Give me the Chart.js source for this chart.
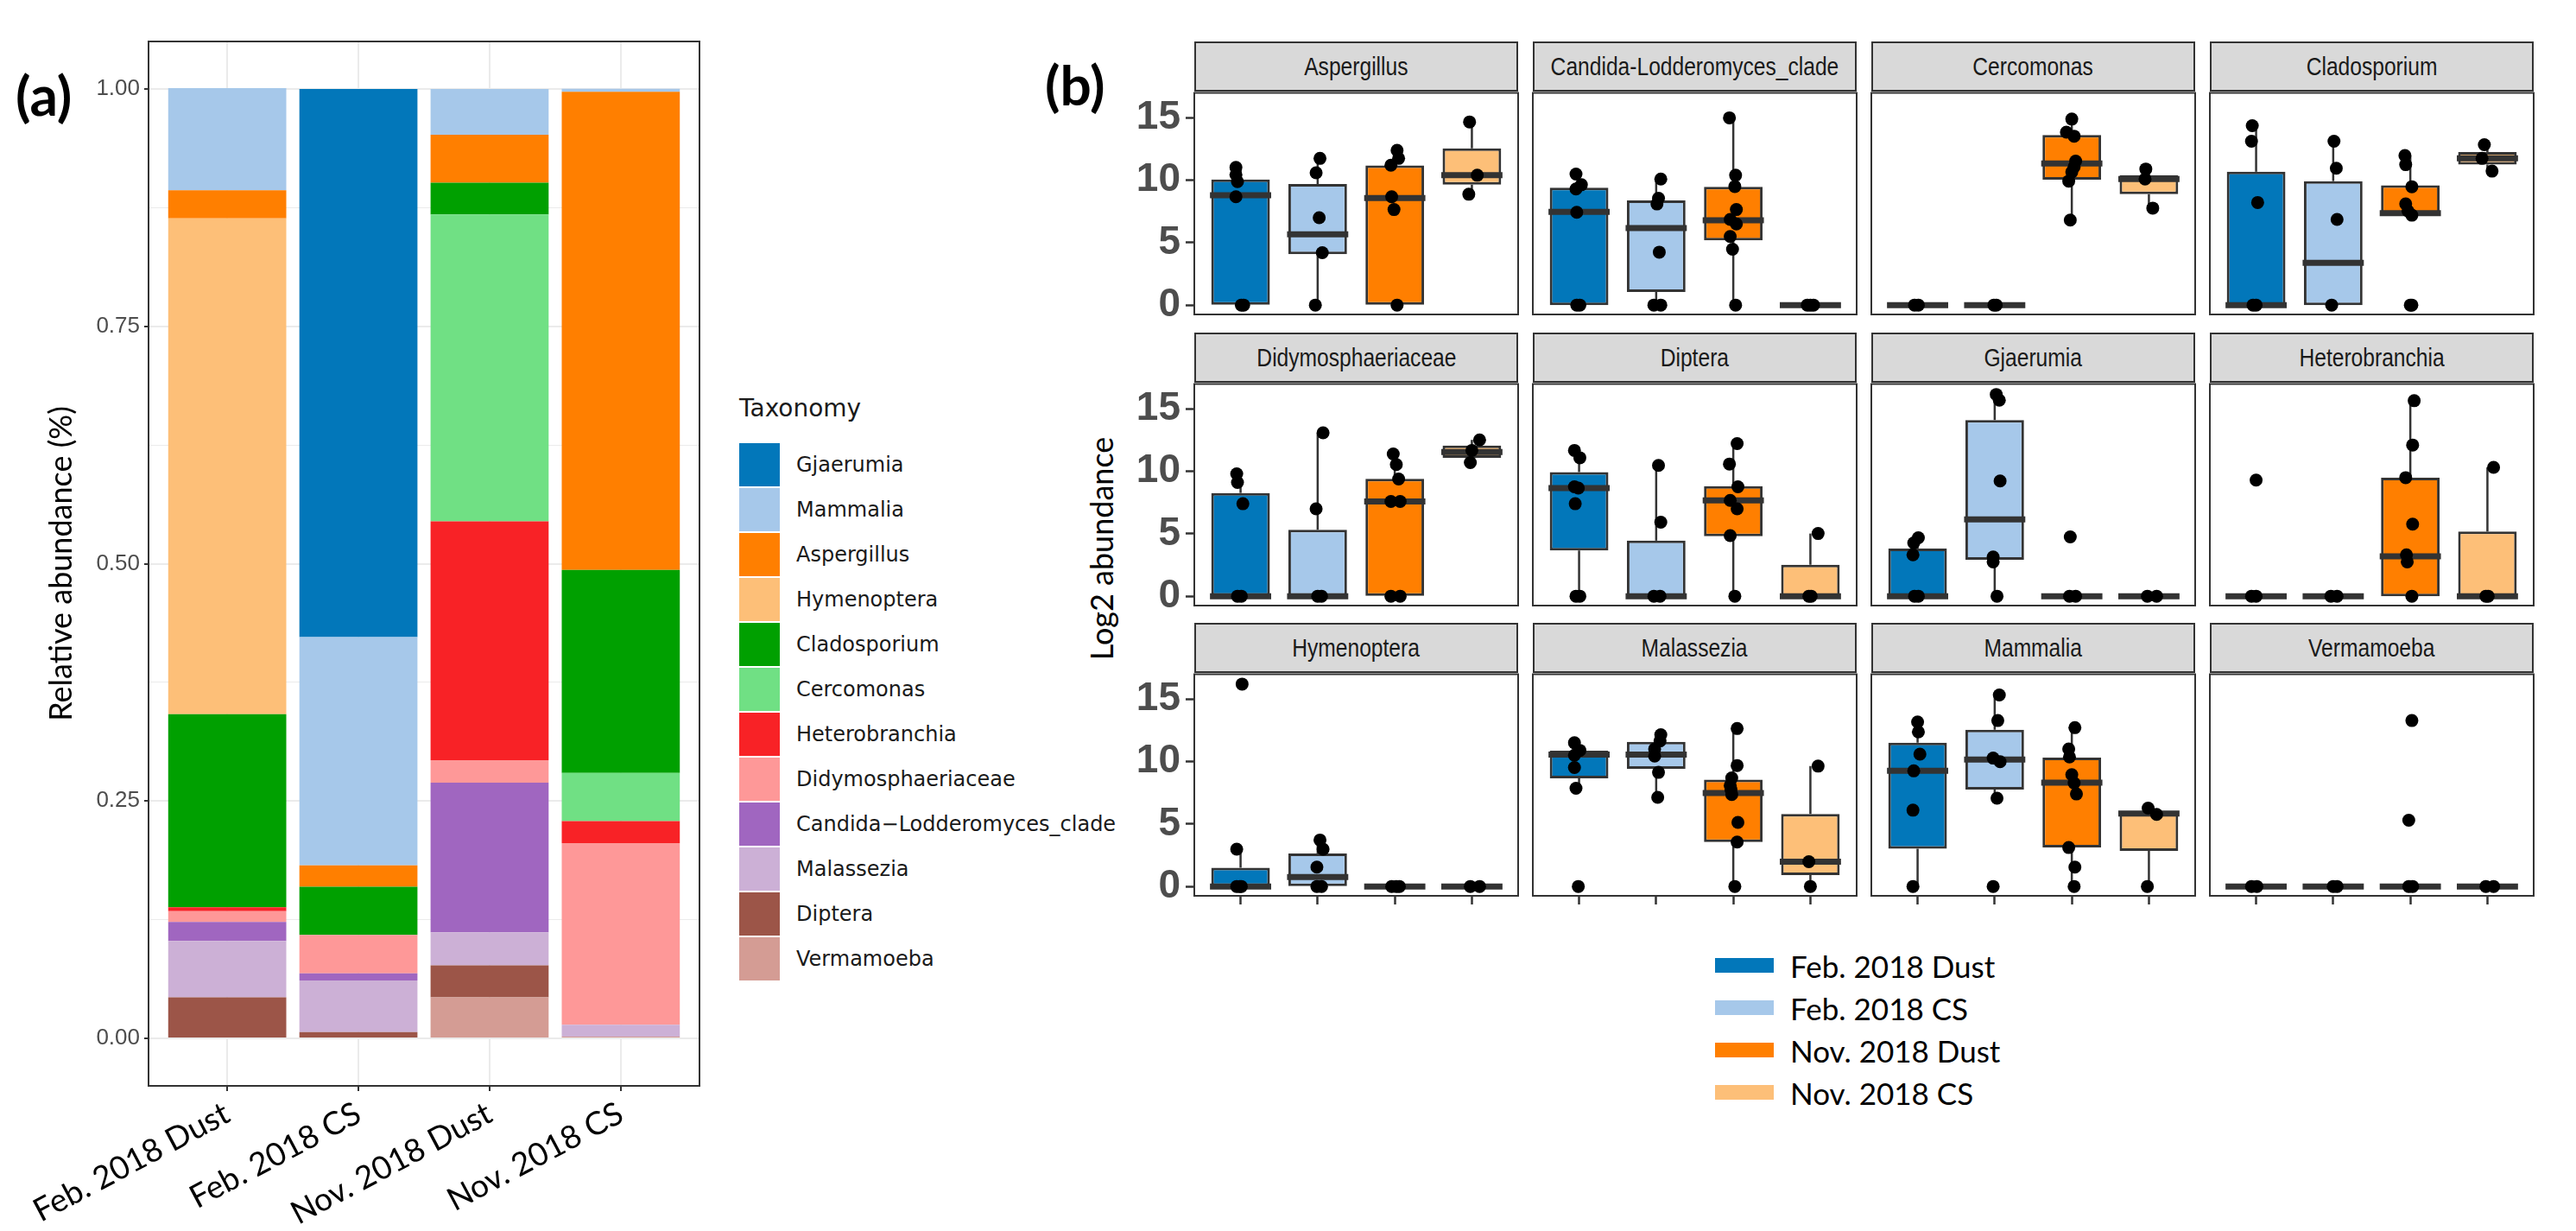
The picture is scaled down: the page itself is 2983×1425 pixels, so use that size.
<!DOCTYPE html>
<html>
<head>
<meta charset="utf-8">
<script src="https://cdn.jsdelivr.net/npm/chart.js@4.4.1/dist/chart.umd.min.js"></script>
<style>
  body { margin: 0; background: #fff; width: 2983px; height: 1425px; position: relative; overflow: hidden; font-family: Lato, sans-serif; }
  canvas, .abs { position: absolute; }
  .tag { font: 700 64px Lato, sans-serif; line-height: 1; color: #000; }
  .strip { box-sizing: border-box; background: #D9D9D9; border: 2px solid #333; color: #1a1a1a;
           font: 30px 'Liberation Sans', Arial, sans-serif;
           display: flex; align-items: center; justify-content: center; overflow: hidden; }
  .strip span { display: inline-block; white-space: nowrap; transform: scaleX(0.82); }
  .ytitle { font: 36px Lato, sans-serif; color: #000; white-space: nowrap; transform: translate(-50%, -50%) rotate(-90deg); }
  #legA { left: 856px; top: 456px; font: 24px 'DejaVu Sans', sans-serif; color: #1a1a1a; }
  #legA .ttl { font-size: 28px; height: 56px; }
  #legA .row { display: flex; align-items: center; height: 52px; }
  #legA .key { width: 47px; height: 50px; margin-right: 19px; }
  #legB { left: 1986px; top: 1093px; font: 35px Lato, sans-serif; color: #000; }
  #legB .row { display: flex; align-items: center; height: 49px; }
  #legB .key { width: 68px; height: 17px; margin-right: 19px; }
</style>
</head>
<body>
<div class="abs tag" style="left:18px;top:78px">(a)</div>
<div class="abs tag" style="left:1210px;top:66px">(b)</div>
<canvas id="barsA" width="830" height="1425" style="left:0;top:0"></canvas>
<div id="legA" class="abs"></div>
<div class="abs ytitle" style="left:1275px;top:635px">Log2 abundance</div>
<div id="legB" class="abs"></div>
<div id="facets"></div>

<script>
// ---------- panel (a): relative abundance ----------
const samples = ["Feb. 2018 Dust", "Feb. 2018 CS", "Nov. 2018 Dust", "Nov. 2018 CS"];
const sampleColors = ["#0277BA", "#A6C8EA", "#FF7F00", "#FDBF78"];

// legend order (top of each stack first)
const taxa = ["Gjaerumia", "Mammalia", "Aspergillus", "Hymenoptera", "Cladosporium", "Cercomonas",
  "Heterobranchia", "Didymosphaeriaceae", "Candida\u2212Lodderomyces_clade", "Malassezia", "Diptera", "Vermamoeba"];
const taxaColors = ["#0277BA", "#A6C8EA", "#FF7F00", "#FDBF78", "#00A000", "#70E084",
  "#F82226", "#FE9898", "#A066C0", "#CCB0D6", "#9C5548", "#D49C94"];

// share of each taxon per sample, same order as taxa
const febDust = [0, 0.1075, 0.0295, 0.5224, 0.2034, 0, 0.004, 0.0113, 0.02, 0.0594, 0.0433, 0];
const febCS = [0.5773, 0.2405, 0.0224, 0, 0.0509, 0, 0, 0.0404, 0.0074, 0.0545, 0.0066, 0];
const novDust = [0, 0.0483, 0.0504, 0, 0.0334, 0.3233, 0.2516, 0.0236, 0.1576, 0.0348, 0.0337, 0.0433];
const novCS = [0, 0.003, 0.5037, 0, 0.2137, 0.0509, 0.0232, 0.1912, 0, 0.0126, 0, 0.0018];

const yTicksA = [0, 0.25, 0.5, 0.75, 1];
const yGridA = [0, 0.125, 0.25, 0.375, 0.5, 0.625, 0.75, 0.875, 1];

// ---------- panel (b): log2 abundance per taxon ----------
// box = [lower whisker, q1, median, q3, upper whisker] per sample
// pts = per sample, [value, horizontal jitter]
const aspergillusBox = [[0, 0, 8.8, 10.07, 11.03], [0, 4.08, 5.67, 9.7, 11.75], [0, 0, 8.57, 11.18, 12.4], [8.88, 9.65, 10.4, 12.55, 14.67]];
const aspergillusPts = [
  [[11.03, -.06], [10.44, -.06], [9.89, -.04], [8.68, -.06], [0, .01], [0, .04]],
  [[11.75, .03], [10.6, -.02], [7.0, .02], [4.2, .06], [0, -.03]],
  [[12.4, .03], [11.75, .05], [11.2, -.05], [8.68, -.04], [7.65, -.01], [0, .03]],
  [[14.67, -.03], [10.4, .07], [8.88, -.04]]];

const candidaBox = [[0, 0, 7.47, 9.41, 10.5], [0, 1.05, 6.17, 8.38, 10.1], [0, 5.19, 6.79, 9.48, 15.0], [0, 0, 0, 0, 0]];
const candidaPts = [
  [[10.5, -.04], [9.64, .03], [9.3, -.04], [7.43, -.03], [0, -.03], [0, .01]],
  [[10.1, .06], [8.56, .03], [8.1, .01], [4.24, .04], [0, -.03], [0, .06]],
  [[15.0, -.05], [10.4, .03], [9.5, .02], [7.65, .04], [6.86, -.04], [6.5, .04], [5.5, -.04], [4.47, -.01], [0, .03]],
  [[0, -.04], [0, 0], [0, .04]]];

const cercomonasBox = [[0, 0, 0, 0, 0], [0, 0, 0, 0, 0], [6.81, 10.05, 11.34, 13.62, 14.9], [7.77, 8.88, 10.1, 10.4, 10.9]];
const cercomonasPts = [
  [[0, -.04], [0, .01]],
  [[0, -.01], [0, .02]],
  [[14.9, 0], [13.85, -.07], [13.53, .03], [11.53, .05], [11.07, .03], [10.66, 0], [9.93, -.04], [6.81, -.02]],
  [[10.9, -.04], [10.1, -.05], [7.77, .05]]];

const cladosporiumBox = [[0, 0, 0, 10.68, 14.37], [0, 0, 3.39, 9.93, 13.12], [7.2, 7.2, 7.36, 9.59, 11.98], [10.73, 11.25, 11.75, 12.26, 12.85]];
const cladosporiumPts = [
  [[14.37, -.05], [13.12, -.06], [8.22, .02], [0, -.04], [0, 0]],
  [[13.12, .01], [10.96, .04], [6.86, .05], [0, -.02]],
  [[11.98, -.07], [11.25, -.06], [9.48, .02], [8.11, -.06], [7.54, -.03], [7.2, .02], [0, 0], [0, .02]],
  [[12.85, -.04], [11.75, -.07], [10.73, .06]]];

const didymoBox = [[0, 0, 0, 8.27, 9.8], [0, 0, 0, 5.32, 13.09], [0, 0, 7.59, 9.41, 11.39], [10.7, 11.09, 11.55, 12.07, 12.52]];
const didymoPts = [
  [[9.8, -.05], [9.11, -.04], [7.41, .03], [0, -.04], [0, .01]],
  [[13.09, .07], [7.0, -.02], [0, 0], [0, .05]],
  [[11.39, -.02], [10.55, .02], [9.39, .05], [7.59, -.05], [7.59, .07], [0, -.05], [0, .07]],
  [[12.52, .1], [11.68, 0], [10.7, -.02]]];

const dipteraBox = [[0, 3.66, 8.66, 9.95, 11.68], [0, 0, 0, 4.45, 10.48], [0, 4.8, 7.68, 8.82, 12.23], [0, 0, 0, 2.52, 5.02]];
const dipteraPts = [
  [[11.68, -.06], [11.09, .01], [8.77, -.06], [8.66, -.01], [7.41, -.05], [0, -.04], [0, .01]],
  [[10.48, .03], [5.93, .06], [0, -.03], [0, .05]],
  [[12.23, .05], [10.59, -.05], [8.77, .06], [7.68, -.04], [7.0, .05], [4.86, -.04], [0, .02]],
  [[5.02, .1], [0, -.02], [0, .01]]];

const gjaerumiaBox = [[0, 0, 0, 3.82, 4.68], [0, 2.91, 6.16, 14.11, 16.16], [0, 0, 0, 0, 0], [0, 0, 0, 0, 0]];
const gjaerumiaPts = [
  [[4.68, .01], [4.27, -.05], [3.32, -.06], [0, -.04], [0, .01]],
  [[16.16, .02], [15.7, .06], [9.23, .07], [3.14, -.02], [2.75, -.02], [0, .03]],
  [[4.75, -.02], [0, -.03], [0, .05]],
  [[0, -.02], [0, .1]]];

const heterobranchiaBox = [[0, 0, 0, 0, 0], [0, 0, 0, 0, 0], [0, 0, 3.2, 9.5, 15.66], [0, 0, 0, 5.18, 10.32]];
const heterobranchiaPts = [
  [[9.3, 0], [0, -.06], [0, 0]],
  [[0, -.03], [0, .05]],
  [[15.66, .05], [12.11, .03], [9.5, -.06], [5.77, .03], [3.32, -.05], [2.75, -.04], [0, .02]],
  [[10.32, .08], [0, -.02], [0, .01]]];

const hymenopteraBox = [[0, 0, 0, 1.5, 2.99], [0, 0, 0.75, 2.64, 3.72], [0, 0, 0, 0, 0], [0, 0, 0, 0, 0]];
const hymenopteraPts = [
  [[16.21, .02], [2.99, -.05], [0, -.05], [0, .01], [0, -.01]],
  [[3.72, .03], [2.99, .07], [1.55, -.01], [0, -.01], [0, .05]],
  [[0, -.04], [0, .02], [0, .06]],
  [[0, -.02], [0, .1]]];

const malasseziaBox = [[7.87, 8.66, 10.56, 10.87, 11.51], [7.14, 9.42, 10.56, 11.58, 12.15], [0, 3.56, 7.48, 8.55, 12.65], [0, 0.91, 1.98, 5.81, 9.64]];
const malasseziaPts = [
  [[11.51, -.06], [10.9, .01], [10.51, -.06], [9.53, -.06], [7.87, -.04], [0, -.01]],
  [[12.15, .06], [11.65, .05], [11.01, -.02], [10.44, -.02], [9.14, .03], [7.14, .02]],
  [[12.65, .05], [9.69, .05], [8.69, -.02], [8.09, -.04], [7.77, -.03], [7.36, -.02], [5.13, .06], [3.56, .05], [0, .02]],
  [[9.64, .1], [1.98, -.02], [0, 0]]];

const mammaliaBox = [[0, 3.03, 9.26, 11.51, 13.18], [7.07, 7.77, 10.17, 12.56, 15.34], [0, 3.12, 8.32, 10.33, 12.72], [0, 2.85, 5.84, 6.0, 6.27]];
const mammaliaPts = [
  [[13.18, 0], [12.38, .01], [10.6, .03], [9.26, -.05], [6.11, -.06], [0, -.06]],
  [[15.34, .06], [13.29, .04], [10.28, -.02], [9.99, .07], [7.07, .03], [0, -.02]],
  [[12.72, .04], [11.01, -.04], [10.37, -.03], [8.96, 0], [8.28, .03], [7.41, .06], [3.12, -.04], [1.55, .04], [0, .03]],
  [[6.27, -.01], [5.77, .1], [0, -.02]]];

const vermamoebaBox = [[0, 0, 0, 0, 0], [0, 0, 0, 0, 0], [0, 0, 0, 0, 0], [0, 0, 0, 0, 0]];
const vermamoebaPts = [
  [[0, -.06], [0, .01]],
  [[0, 0], [0, .05]],
  [[13.29, .02], [5.31, -.02], [0, -.02], [0, .03]],
  [[0, -.02], [0, .08]]];

const facetNames = ["Aspergillus", "Candida-Lodderomyces_clade", "Cercomonas", "Cladosporium",
  "Didymosphaeriaceae", "Diptera", "Gjaerumia", "Heterobranchia",
  "Hymenoptera", "Malassezia", "Mammalia", "Vermamoeba"];
const facetBoxes = [aspergillusBox, candidaBox, cercomonasBox, cladosporiumBox, didymoBox, dipteraBox,
  gjaerumiaBox, heterobranchiaBox, hymenopteraBox, malasseziaBox, mammaliaBox, vermamoebaBox];
const facetPts = [aspergillusPts, candidaPts, cercomonasPts, cladosporiumPts, didymoPts, dipteraPts,
  gjaerumiaPts, heterobranchiaPts, hymenopteraPts, malasseziaPts, mammaliaPts, vermamoebaPts];
const yTicksB = [0, 5, 10, 15];

// ---------- layout ----------
const tickFont = "'Liberation Sans', Arial, sans-serif";
const colLeft = [1383, 1775, 2167, 2559];
const stripTop = [48, 385, 721];
const panelW = 375, panelH = 260, stripH = 56, axisW = 130, pad = 4, axisH = 24;

const frame = {
  id: "frame",
  afterDraw(chart, args, opts) {
    const a = chart.chartArea, ctx = chart.ctx;
    ctx.save();
    ctx.strokeStyle = "#333";
    ctx.lineWidth = opts.width || 2;
    ctx.strokeRect(a.left, a.top, a.right - a.left, a.bottom - a.top);
    ctx.restore();
  }
};

// whiskers and median drawn right after the boxes, before the points
const whiskers = {
  id: "whiskers",
  afterDatasetDraw(chart, args) {
    const ds = chart.data.datasets[args.index];
    if (!ds.stats) return;
    const y = chart.scales.y, ctx = chart.ctx;
    args.meta.data.forEach((bar, i) => {
      const [lo, q1, med, q3, hi] = ds.stats[i];
      const half = bar.width / 2;
      ctx.save();
      ctx.strokeStyle = "#333";
      ctx.lineWidth = 2.5;
      ctx.beginPath();
      ctx.moveTo(bar.x, y.getPixelForValue(q3));
      ctx.lineTo(bar.x, y.getPixelForValue(hi));
      ctx.moveTo(bar.x, y.getPixelForValue(q1));
      ctx.lineTo(bar.x, y.getPixelForValue(lo));
      ctx.stroke();
      ctx.lineWidth = 7;
      const ym = y.getPixelForValue(med);
      ctx.beginPath();
      ctx.moveTo(bar.x - half - 1.5, ym);
      ctx.lineTo(bar.x + half + 1.5, ym);
      ctx.stroke();
      ctx.restore();
    });
  }
};

// ---------- draw panel (a) ----------
const sampleShares = [febDust, febCS, novDust, novCS];
const stackOrder = taxa.map((t, i) => i).reverse(); // bottom of stack first

new Chart(document.getElementById("barsA"), {
  type: "bar",
  data: {
    datasets: stackOrder.map((ti) => ({
      label: taxa[ti],
      data: sampleShares.map((s, si) => ({ x: si + 1, y: s[ti] })),
      backgroundColor: taxaColors[ti],
      borderWidth: 0,
      barPercentage: 0.9,
      categoryPercentage: 1,
    })),
  },
  options: {
    responsive: false, animation: false, devicePixelRatio: 1, events: [],
    layout: { padding: { left: 50, top: 48, right: 20, bottom: 0 } },
    plugins: { legend: { display: false }, tooltip: { enabled: false }, frame: { width: 2 } },
    scales: {
      x: {
        type: "linear", stacked: true, min: 0.4, max: 4.6, offset: false,
        afterBuildTicks: (a) => { a.ticks = samples.map((s, i) => ({ value: i + 1 })); },
        afterFit: (a) => { a.height = 168; a.paddingLeft = 0; a.paddingRight = 0; },
        ticks: {
          callback: (v) => samples[v - 1], autoSkip: false, minRotation: 28, maxRotation: 28,
          font: { family: "Lato", size: 37 }, color: "#000", padding: 4,
        },
        grid: { color: "#EBEBEB", lineWidth: 2, tickLength: 6, tickColor: "#333", tickWidth: 2, offset: false },
        border: { display: false },
      },
      y: {
        stacked: true, min: -0.05, max: 1.05,
        afterBuildTicks: (a) => { a.ticks = yGridA.map((v) => ({ value: v })); },
        afterFit: (a) => { a.width = 122; a.paddingTop = 0; a.paddingBottom = 0; },
        title: { display: true, text: "Relative abundance (%)", font: { family: "Lato", size: 36 }, color: "#000", padding: 0 },
        ticks: {
          callback: (v) => (yTicksA.includes(v) ? v.toFixed(2) : ""),
          font: { family: tickFont, size: 26 }, color: "#4D4D4D", padding: 5,
        },
        grid: {
          color: "#EBEBEB",
          lineWidth: (c) => (yTicksA.includes(c.tick.value) ? 2 : 1),
          tickColor: (c) => (yTicksA.includes(c.tick.value) ? "#333" : "rgba(0,0,0,0)"),
          tickLength: 5, tickWidth: 2,
        },
        border: { display: false },
      },
    },
  },
  plugins: [frame],
});

// legend (a)
const legA = document.getElementById("legA");
legA.innerHTML = '<div class="ttl">Taxonomy</div>' +
  taxa.map((t, i) => `<div class="row"><div class="key" style="background:${taxaColors[i]}"></div>${t}</div>`).join("");

// legend (b)
const legB = document.getElementById("legB");
legB.innerHTML = samples.map((s, i) => `<div class="row"><div class="key" style="background:${sampleColors[i]}"></div>${s}</div>`).join("");

// ---------- draw panel (b) ----------
const facetsDiv = document.getElementById("facets");
facetNames.forEach((name, f) => {
  const row = Math.floor(f / 4), col = f % 4;
  const left = colLeft[col], top = stripTop[row];

  const strip = document.createElement("div");
  strip.className = "abs strip";
  strip.style.cssText = `left:${left}px;top:${top}px;width:${panelW}px;height:${stripH + 2}px`;
  const label = document.createElement("span");
  label.textContent = name;
  strip.appendChild(label);
  facetsDiv.appendChild(strip);

  const cv = document.createElement("canvas");
  cv.width = axisW + panelW + pad * 2;
  cv.height = panelH + pad + axisH;
  cv.style.left = (left - axisW) + "px";
  cv.style.top = (top + stripH - pad) + "px";
  facetsDiv.appendChild(cv);

  const showY = col === 0, showX = row === 2;
  const box = facetBoxes[f];
  const pts = facetPts[f];

  new Chart(cv, {
    type: "bar",
    data: {
      datasets: [
        {
          data: box.map((s, i) => ({ x: i + 1, y: [s[1], s[3]] })),
          stats: box,
          backgroundColor: sampleColors,
          borderColor: "#333",
          borderWidth: 3,
          borderSkipped: false,
          barPercentage: 0.76,
          categoryPercentage: 1,
          order: 2,
        },
        {
          type: "scatter",
          data: pts.flatMap((g, i) => g.map(([v, dx]) => ({ x: i + 1 + dx, y: v }))),
          backgroundColor: "#000",
          borderWidth: 0,
          pointRadius: 7.5,
          order: 1,
        },
      ],
    },
    options: {
      responsive: false, animation: false, devicePixelRatio: 1, events: [],
      layout: { padding: { left: showY ? 0 : axisW, top: pad, right: pad * 2, bottom: showX ? 0 : axisH } },
      plugins: { legend: { display: false }, tooltip: { enabled: false }, frame: { width: 2 } },
      scales: {
        x: {
          type: "linear", min: 0.4, max: 4.6, offset: false, display: showX,
          afterBuildTicks: (a) => { a.ticks = samples.map((s, i) => ({ value: i + 1 })); },
          afterFit: (a) => { a.height = showX ? axisH : 0; a.paddingLeft = 0; a.paddingRight = 0; },
          ticks: { callback: () => "", padding: 0 },
          grid: { drawOnChartArea: false, tickLength: 10, tickColor: "#333", tickWidth: 2.5, offset: false },
          border: { display: false },
        },
        y: {
          min: -0.75, max: 17, display: showY,
          afterBuildTicks: (a) => { a.ticks = yTicksB.map((v) => ({ value: v })); },
          afterFit: (a) => { a.width = showY ? axisW : 0; a.paddingTop = 0; a.paddingBottom = 0; },
          ticks: { font: { family: tickFont, size: 46, weight: "bold" }, color: "#4D4D4D", padding: 6 },
          grid: { drawOnChartArea: false, tickLength: 10, tickColor: "#333", tickWidth: 2.5 },
          border: { display: false },
        },
      },
    },
    plugins: [frame, whiskers],
  });
});
</script>
</body>
</html>
